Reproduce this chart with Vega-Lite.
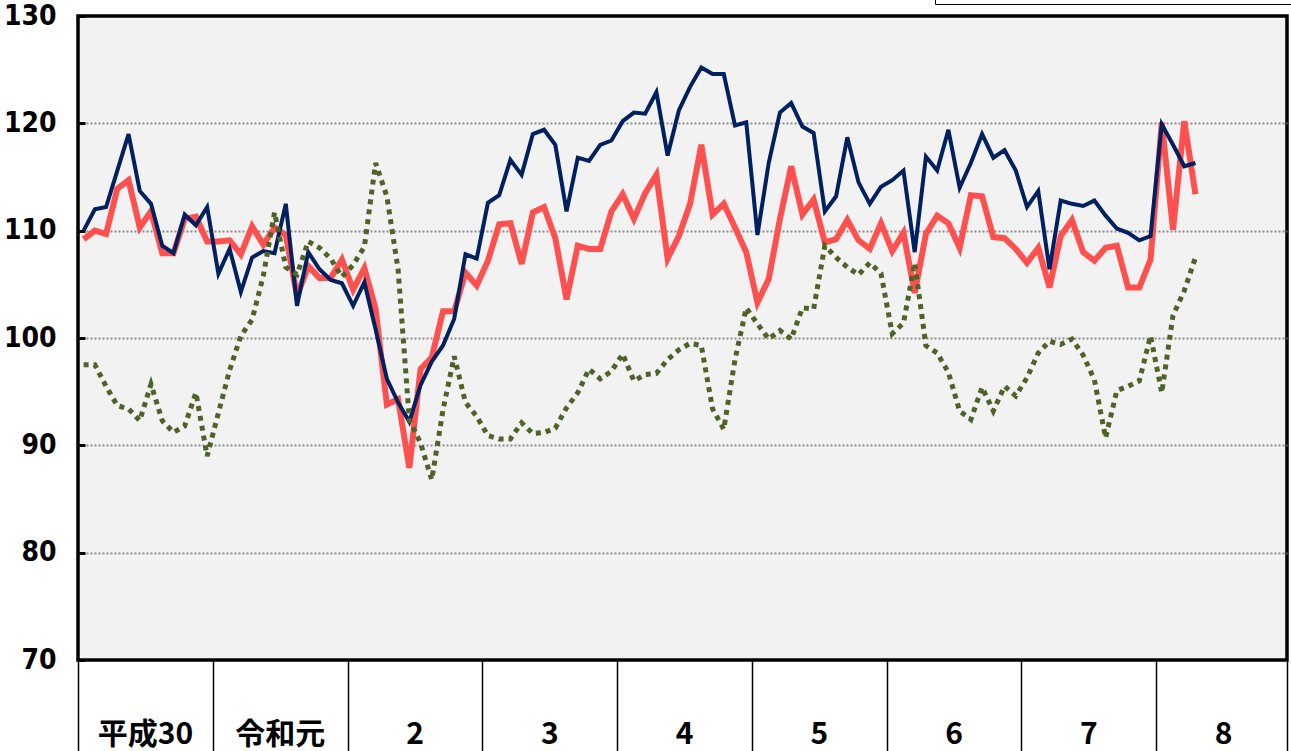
{
  "$schema": "https://vega.github.io/schema/vega-lite/v6.json",
  "width": 1209,
  "height": 644,
  "autosize": "none",
  "padding": {"left": 78, "top": 16, "right": 4, "bottom": 91},
  "background": "white",
  "title": {
    "text": "（季節調整済、令和2年＝100）",
    "font": "Noto Sans CJK JP",
    "fontSize": 26,
    "fontWeight": "normal",
    "color": "black",
    "anchor": "middle",
    "dx": -20,
    "baseline": "bottom",
    "offset": -64
  },
  "config": {
    "view": {"fill": "#f2f2f2", "stroke": "black", "strokeWidth": 3.5},
    "axis": {"labelFont": "DejaVu Sans Condensed, Liberation Sans", "labelColor": "black", "labelFontWeight": "bold"}
  },
  "data": {
    "values": [
      {"t": 0, "production": 110.0, "shipments": 109.2, "inventory": 97.5},
      {"t": 1, "production": 112.0, "shipments": 110.0, "inventory": 97.5},
      {"t": 2, "production": 112.2, "shipments": 109.7, "inventory": 95.5},
      {"t": 3, "production": 115.6, "shipments": 113.9, "inventory": 93.7},
      {"t": 4, "production": 119.0, "shipments": 114.7, "inventory": 93.4},
      {"t": 5, "production": 113.7, "shipments": 110.3, "inventory": 92.3},
      {"t": 6, "production": 112.5, "shipments": 111.8, "inventory": 95.7},
      {"t": 7, "production": 108.6, "shipments": 107.9, "inventory": 92.3},
      {"t": 8, "production": 107.9, "shipments": 107.9, "inventory": 91.2},
      {"t": 9, "production": 111.5, "shipments": 111.1, "inventory": 91.8},
      {"t": 10, "production": 110.5, "shipments": 111.3, "inventory": 94.9},
      {"t": 11, "production": 112.2, "shipments": 109.0, "inventory": 89.0},
      {"t": 12, "production": 106.0, "shipments": 109.0, "inventory": 93.0},
      {"t": 13, "production": 108.3, "shipments": 109.1, "inventory": 97.0},
      {"t": 14, "production": 104.3, "shipments": 107.8, "inventory": 100.2},
      {"t": 15, "production": 107.5, "shipments": 110.4, "inventory": 101.7},
      {"t": 16, "production": 108.1, "shipments": 108.7, "inventory": 105.8},
      {"t": 17, "production": 107.9, "shipments": 110.3, "inventory": 111.7},
      {"t": 18, "production": 112.5, "shipments": 109.6, "inventory": 106.6},
      {"t": 19, "production": 103.0, "shipments": 103.9, "inventory": 105.9},
      {"t": 20, "production": 108.0, "shipments": 106.7, "inventory": 109.0},
      {"t": 21, "production": 106.4, "shipments": 105.6, "inventory": 108.4},
      {"t": 22, "production": 105.4, "shipments": 105.6, "inventory": 107.4},
      {"t": 23, "production": 105.1, "shipments": 107.3, "inventory": 105.7},
      {"t": 24, "production": 103.0, "shipments": 104.5, "inventory": 106.8},
      {"t": 25, "production": 105.2, "shipments": 106.5, "inventory": 108.5},
      {"t": 26, "production": 100.8, "shipments": 102.7, "inventory": 116.3},
      {"t": 27, "production": 96.2, "shipments": 93.8, "inventory": 113.2},
      {"t": 28, "production": 94.0, "shipments": 94.3, "inventory": 106.4},
      {"t": 29, "production": 92.2, "shipments": 87.9, "inventory": 92.4},
      {"t": 30, "production": 95.6, "shipments": 97.1, "inventory": 90.2},
      {"t": 31, "production": 97.8, "shipments": 98.2, "inventory": 86.8},
      {"t": 32, "production": 99.3, "shipments": 102.5, "inventory": 93.3},
      {"t": 33, "production": 101.8, "shipments": 102.5, "inventory": 98.3},
      {"t": 34, "production": 107.8, "shipments": 106.1, "inventory": 94.0},
      {"t": 35, "production": 107.4, "shipments": 104.9, "inventory": 92.7},
      {"t": 36, "production": 112.6, "shipments": 107.2, "inventory": 90.9},
      {"t": 37, "production": 113.3, "shipments": 110.6, "inventory": 90.6},
      {"t": 38, "production": 116.6, "shipments": 110.7, "inventory": 90.6},
      {"t": 39, "production": 115.2, "shipments": 106.9, "inventory": 92.1},
      {"t": 40, "production": 119.0, "shipments": 111.7, "inventory": 91.1},
      {"t": 41, "production": 119.4, "shipments": 112.2, "inventory": 91.2},
      {"t": 42, "production": 118.0, "shipments": 109.3, "inventory": 91.6},
      {"t": 43, "production": 111.8, "shipments": 103.6, "inventory": 93.5},
      {"t": 44, "production": 116.8, "shipments": 108.6, "inventory": 94.9},
      {"t": 45, "production": 116.5, "shipments": 108.3, "inventory": 97.1},
      {"t": 46, "production": 118.0, "shipments": 108.3, "inventory": 96.2},
      {"t": 47, "production": 118.4, "shipments": 111.8, "inventory": 96.9},
      {"t": 48, "production": 120.2, "shipments": 113.4, "inventory": 98.5},
      {"t": 49, "production": 121.0, "shipments": 111.1, "inventory": 96.0},
      {"t": 50, "production": 120.9, "shipments": 113.5, "inventory": 96.6},
      {"t": 51, "production": 122.9, "shipments": 115.2, "inventory": 96.7},
      {"t": 52, "production": 117.0, "shipments": 107.4, "inventory": 98.0},
      {"t": 53, "production": 121.2, "shipments": 109.5, "inventory": 98.9},
      {"t": 54, "production": 123.4, "shipments": 112.5, "inventory": 99.5},
      {"t": 55, "production": 125.2, "shipments": 118.0, "inventory": 99.3},
      {"t": 56, "production": 124.6, "shipments": 111.5, "inventory": 93.4},
      {"t": 57, "production": 124.6, "shipments": 112.5, "inventory": 91.5},
      {"t": 58, "production": 119.8, "shipments": 110.3, "inventory": 98.0},
      {"t": 59, "production": 120.1, "shipments": 108.0, "inventory": 102.8},
      {"t": 60, "production": 109.6, "shipments": 103.3, "inventory": 101.3},
      {"t": 61, "production": 116.3, "shipments": 105.5, "inventory": 99.9},
      {"t": 62, "production": 121.0, "shipments": 111.1, "inventory": 100.7},
      {"t": 63, "production": 121.9, "shipments": 116.0, "inventory": 99.9},
      {"t": 64, "production": 119.7, "shipments": 111.5, "inventory": 102.8},
      {"t": 65, "production": 119.1, "shipments": 112.9, "inventory": 102.7},
      {"t": 66, "production": 111.8, "shipments": 108.9, "inventory": 108.6},
      {"t": 67, "production": 113.2, "shipments": 109.2, "inventory": 107.5},
      {"t": 68, "production": 118.7, "shipments": 111.0, "inventory": 106.6},
      {"t": 69, "production": 114.5, "shipments": 109.1, "inventory": 105.9},
      {"t": 70, "production": 112.5, "shipments": 108.3, "inventory": 107.0},
      {"t": 71, "production": 114.1, "shipments": 110.7, "inventory": 106.0},
      {"t": 72, "production": 114.7, "shipments": 108.1, "inventory": 100.4},
      {"t": 73, "production": 115.6, "shipments": 109.8, "inventory": 101.4},
      {"t": 74, "production": 108.0, "shipments": 104.2, "inventory": 107.0},
      {"t": 75, "production": 116.9, "shipments": 109.7, "inventory": 99.3},
      {"t": 76, "production": 115.6, "shipments": 111.4, "inventory": 98.6},
      {"t": 77, "production": 119.4, "shipments": 110.7, "inventory": 96.8},
      {"t": 78, "production": 114.0, "shipments": 108.4, "inventory": 93.2},
      {"t": 79, "production": 116.3, "shipments": 113.3, "inventory": 92.4},
      {"t": 80, "production": 119.0, "shipments": 113.2, "inventory": 95.4},
      {"t": 81, "production": 116.8, "shipments": 109.4, "inventory": 93.2},
      {"t": 82, "production": 117.5, "shipments": 109.3, "inventory": 95.5},
      {"t": 83, "production": 115.6, "shipments": 108.3, "inventory": 94.6},
      {"t": 84, "production": 112.2, "shipments": 107.0, "inventory": 96.3},
      {"t": 85, "production": 113.7, "shipments": 108.4, "inventory": 98.6},
      {"t": 86, "production": 106.4, "shipments": 104.7, "inventory": 99.7},
      {"t": 87, "production": 112.8, "shipments": 109.5, "inventory": 99.4},
      {"t": 88, "production": 112.5, "shipments": 111.0, "inventory": 99.9},
      {"t": 89, "production": 112.3, "shipments": 108.0, "inventory": 98.4},
      {"t": 90, "production": 112.8, "shipments": 107.2, "inventory": 96.1},
      {"t": 91, "production": 111.4, "shipments": 108.4, "inventory": 90.7},
      {"t": 92, "production": 110.2, "shipments": 108.6, "inventory": 95.1},
      {"t": 93, "production": 109.8, "shipments": 104.7, "inventory": 95.5},
      {"t": 94, "production": 109.1, "shipments": 104.7, "inventory": 96.0},
      {"t": 95, "production": 109.5, "shipments": 107.3, "inventory": 100.2},
      {"t": 96, "production": 119.9, "shipments": 120.1, "inventory": 94.9},
      {"t": 97, "production": 118.0, "shipments": 110.1, "inventory": 102.1},
      {"t": 98, "production": 116.0, "shipments": 120.2, "inventory": 104.4},
      {"t": 99, "production": 116.3, "shipments": 113.4, "inventory": 107.5}
    ]
  },
  "encoding": {
    "x": {
      "field": "t",
      "type": "quantitative",
      "scale": {"domain": [-0.5, 107.15], "nice": false, "zero": false},
      "axis": {
        "title": null,
        "domain": false,
        "grid": false,
        "values": [-0.5, 11.5, 23.5, 35.5, 47.5, 59.5, 71.5, 83.5, 95.5, 107.15],
        "tickSize": 91,
        "tickWidth": 1.5,
        "tickColor": "black",
        "labelExpr": "datum.value < 0 ? '平成30' : datum.value < 12 ? '令和元' : datum.value > 100 ? '' : '' + round((datum.value + 0.5) / 12)",
        "labelOffset": 67,
        "labelAlign": "center",
        "labelBaseline": "bottom",
        "labelPadding": -2,
        "labelFont": "Noto Sans CJK JP",
        "labelFontSize": 30,
        "labelFontWeight": "bold",
        "labelOverlap": false,
        "labelBound": false,
        "labelFlush": false
      }
    },
    "y": {
      "type": "quantitative",
      "scale": {"domain": [70, 130], "nice": false, "zero": false},
      "axis": {
        "title": null,
        "domain": false,
        "offset": -7,
        "values": [70, 80, 90, 100, 110, 120, 130],
        "grid": true,
        "gridColor": "#8c8c8c",
        "gridDash": [2, 2],
        "gridWidth": 2,
        "gridOpacity": {"condition": {"test": "datum.value == 70 || datum.value == 130", "value": 0}, "value": 1},
        "tickSize": 7,
        "tickWidth": 3,
        "tickColor": "black",
        "labelFontSize": 28,
        "labelPadding": 22
      }
    }
  },
  "layer": [
    {
      "mark": {"type": "line", "strokeWidth": 6, "strokeJoin": "miter"},
      "encoding": {
        "y": {"field": "shipments", "type": "quantitative"},
        "color": {
          "datum": "出荷",
          "type": "nominal",
          "scale": {"domain": ["生産", "出荷", "在庫"], "range": ["#002060", "#FF5050", "#4F6228"]},
          "legend": {
            "orient": "none",
            "legendX": 857,
            "legendY": -56,
            "direction": "horizontal",
            "title": null,
            "fillColor": "white",
            "strokeColor": "black",
            "padding": 10,
            "columnPadding": 60,
            "symbolType": "stroke",
            "symbolStrokeWidth": 4,
            "symbolSize": 600,
            "labelFont": "Noto Sans CJK JP",
            "labelFontSize": 18,
            "labelFontWeight": "normal"
          }
        }
      }
    },
    {
      "mark": {"type": "line", "strokeWidth": 4, "strokeJoin": "miter"},
      "encoding": {
        "y": {"field": "production", "type": "quantitative"},
        "color": {"datum": "生産", "type": "nominal"}
      }
    },
    {
      "mark": {"type": "line", "strokeWidth": 5, "strokeDash": [5, 5], "strokeJoin": "miter"},
      "encoding": {
        "y": {"field": "inventory", "type": "quantitative"},
        "color": {"datum": "在庫", "type": "nominal"}
      }
    }
  ]
}
